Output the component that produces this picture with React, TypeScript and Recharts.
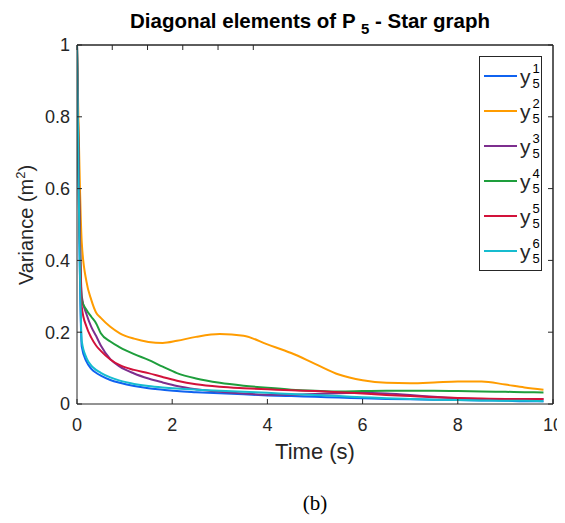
import React from 'react';
import { LineChart, Line, XAxis, YAxis, ReferenceLine } from 'recharts';

// Sample times (s) shared by every series
const times = [0, 0.1, 0.2, 0.3, 0.4, 0.5, 0.7, 0.9, 1.2, 1.5, 1.8, 2.1, 2.5, 3.0, 3.5, 4.0, 4.5, 5.0, 5.5, 6.0, 6.5, 7.0, 7.5, 8.0, 8.5, 9.0, 9.4, 9.8];

// Diagonal elements of P_5 (variance, m^2)
const y1 = [1, 0.16, 0.118, 0.098, 0.087, 0.079, 0.067, 0.059, 0.05, 0.044, 0.04, 0.036, 0.033, 0.03, 0.027, 0.024, 0.022, 0.02, 0.018, 0.016, 0.014, 0.013, 0.012, 0.011, 0.01, 0.009, 0.008, 0.008];
const y2 = [1, 0.45, 0.34, 0.29, 0.255, 0.24, 0.215, 0.197, 0.182, 0.173, 0.17, 0.176, 0.187, 0.195, 0.19, 0.166, 0.142, 0.112, 0.082, 0.066, 0.059, 0.058, 0.06, 0.063, 0.063, 0.054, 0.046, 0.04];
const y3 = [1, 0.3, 0.25, 0.215, 0.19, 0.163, 0.125, 0.104, 0.085, 0.071, 0.06, 0.05, 0.041, 0.034, 0.029, 0.026, 0.026, 0.028, 0.03, 0.031, 0.029, 0.025, 0.02, 0.016, 0.014, 0.014, 0.014, 0.014];
const y4 = [1, 0.29, 0.262, 0.243, 0.225, 0.197, 0.174, 0.158, 0.139, 0.123, 0.104, 0.086, 0.071, 0.059, 0.051, 0.045, 0.04, 0.037, 0.035, 0.036, 0.037, 0.037, 0.037, 0.036, 0.035, 0.034, 0.033, 0.032];
const y5 = [1, 0.27, 0.215, 0.185, 0.163, 0.148, 0.124, 0.108, 0.095, 0.086, 0.075, 0.065, 0.055, 0.048, 0.044, 0.041, 0.038, 0.036, 0.033, 0.029, 0.025, 0.022, 0.019, 0.017, 0.015, 0.014, 0.014, 0.014];
const y6 = [1, 0.175, 0.128, 0.107, 0.095, 0.087, 0.074, 0.065, 0.056, 0.05, 0.046, 0.043, 0.04, 0.037, 0.034, 0.031, 0.028, 0.025, 0.022, 0.019, 0.016, 0.014, 0.012, 0.011, 0.01, 0.009, 0.009, 0.008];

const seriesValues = [y1, y2, y3, y4, y5, y6];
const seriesSup = ['1', '2', '3', '4', '5', '6'];
const seriesColors = ['#0f62f0', '#ff9c00', '#7d2e8e', '#1e9e3c', '#d2123a', '#16bccf'];

const xTicks = [0, 2, 4, 6, 8, 10];
const yTicks = [0, 0.2, 0.4, 0.6, 0.8, 1];

const data = times.map((t, i) => {
  const row: Record<string, number> = { t };
  seriesValues.forEach((s, k) => {
    row[`s${k + 1}`] = s[i];
  });
  return row;
});

const AX = '#262626';
const SANS = '"Liberation Sans", Arial, Helvetica, sans-serif';
const W = 557;
const H = 507;
// plot area: left 69, top 37, right 545, bottom 396
const PLOT = { left: 69, top: 37, right: 545, bottom: 396 };
const LEFT_W = 60;
const RIGHT_W = 2;
const TOP_H = 20;
const BOTTOM_H = 40;
const M = {
  top: PLOT.top - TOP_H,
  right: W - PLOT.right - RIGHT_W,
  bottom: H - PLOT.bottom - BOTTOM_H,
  left: PLOT.left - LEFT_W,
};
const TICK_LEN = 5;

const BottomTick = (p: any) => (
  <g>
    <line x1={p.x} y1={p.y} x2={p.x} y2={p.y - TICK_LEN} stroke={AX} />
    <text x={p.x} y={p.y + 27} textAnchor="middle" fontSize={18} fill={AX} fontFamily={SANS}>
      {p.payload.value}
    </text>
  </g>
);

const TopTick = (p: any) => (
  <line x1={p.x} y1={p.y} x2={p.x} y2={p.y + TICK_LEN} stroke={AX} />
);

const LeftTick = (p: any) => (
  <g>
    <line x1={p.x} y1={p.y} x2={p.x + TICK_LEN} y2={p.y} stroke={AX} />
    <text x={p.x - 7} y={p.y} dy="0.35em" textAnchor="end" fontSize={18} fill={AX} fontFamily={SANS}>
      {p.payload.value}
    </text>
  </g>
);

const RightTick = (p: any) => (
  <line x1={p.x} y1={p.y} x2={p.x - TICK_LEN} y2={p.y} stroke={AX} />
);

const scriptStack = (sup: string) => (
  <span style={{ display: 'inline-flex', flexDirection: 'column', fontSize: 13, lineHeight: '15px', marginLeft: 2 }}>
    <span>{sup}</span>
    <span>5</span>
  </span>
);

export default function App() {
  return (
    <div style={{ position: 'relative', width: W, height: H, overflow: 'hidden', fontFamily: SANS, color: '#000' }}>
      <div style={{ position: 'absolute', left: 0, width: W, paddingLeft: 47, boxSizing: 'border-box', top: 3, textAlign: 'center', fontWeight: 'bold', fontSize: 20.5, lineHeight: '20px', whiteSpace: 'nowrap' }}>
        Diagonal elements of P <span style={{ position: 'relative', top: 6, fontSize: 15 }}>5</span> - Star graph
      </div>

      <LineChart width={W} height={H} data={data} margin={M}>
        <XAxis dataKey="t" type="number" domain={[0, 10]} ticks={xTicks} allowDataOverflow height={BOTTOM_H} tickSize={0} tickMargin={0} tickLine={false} tick={BottomTick} axisLine={{ stroke: AX }} interval={0} />
        <XAxis xAxisId="top" orientation="top" type="number" domain={[0, 10]} ticks={xTicks} allowDataOverflow height={TOP_H} tickSize={0} tickMargin={0} tickLine={false} tick={TopTick} axisLine={{ stroke: AX }} interval={0} />
        <YAxis type="number" domain={[0, 1]} ticks={yTicks} allowDataOverflow width={LEFT_W} tickSize={0} tickMargin={0} tickLine={false} tick={LeftTick} axisLine={{ stroke: AX }} interval={0} />
        <YAxis yAxisId="right" orientation="right" type="number" domain={[0, 1]} ticks={yTicks} allowDataOverflow width={RIGHT_W} tickSize={0} tickMargin={0} tickLine={false} tick={RightTick} axisLine={{ stroke: AX }} interval={0} />
        {/* box edges at the top and right of the axes */}
        <ReferenceLine y={1} stroke={AX} strokeWidth={1} ifOverflow="visible" />
        <ReferenceLine x={10} stroke={AX} strokeWidth={1} ifOverflow="visible" />
        {seriesValues.map((_, k) => (
          <Line
            key={k}
            dataKey={`s${k + 1}`}
            type="monotone"
            stroke={seriesColors[k]}
            strokeWidth={2}
            dot={false}
            activeDot={false}
            isAnimationActive={false}
          />
        ))}
      </LineChart>

      <div style={{ position: 'absolute', left: 19, top: 217, width: 0, height: 0 }}>
        <div style={{ position: 'absolute', left: 0, top: 0, transform: 'translate(-50%, -50%) rotate(-90deg)', fontSize: 20, lineHeight: '24px', whiteSpace: 'nowrap', color: AX }}>
          Variance (m<span style={{ position: 'relative', top: -8, fontSize: 13 }}>2</span>)
        </div>
      </div>

      <div style={{ position: 'absolute', left: 69, width: 476, top: 433, textAlign: 'center', fontSize: 22, lineHeight: '22px', color: AX }}>
        Time (s)
      </div>

      <div style={{ position: 'absolute', left: 69, width: 476, top: 485, textAlign: 'center', fontSize: 21, lineHeight: '20px', fontFamily: '"Liberation Serif", "DejaVu Serif", serif' }}>
        (b)
      </div>

      <div style={{ position: 'absolute', left: 471, top: 48, width: 63, height: 215, border: `1px solid ${AX}`, background: '#fff', boxSizing: 'border-box' }}>
        {seriesColors.map((c, k) => (
          <div key={k} style={{ position: 'absolute', left: 4, top: 3 + k * 35, height: 32, display: 'flex', alignItems: 'center' }}>
            <span style={{ display: 'inline-block', width: 33, height: 2, background: c }} />
            <span style={{ fontSize: 21, marginLeft: 3, lineHeight: '21px', color: AX }}>y</span>
            {scriptStack(seriesSup[k])}
          </div>
        ))}
      </div>
    </div>
  );
}
